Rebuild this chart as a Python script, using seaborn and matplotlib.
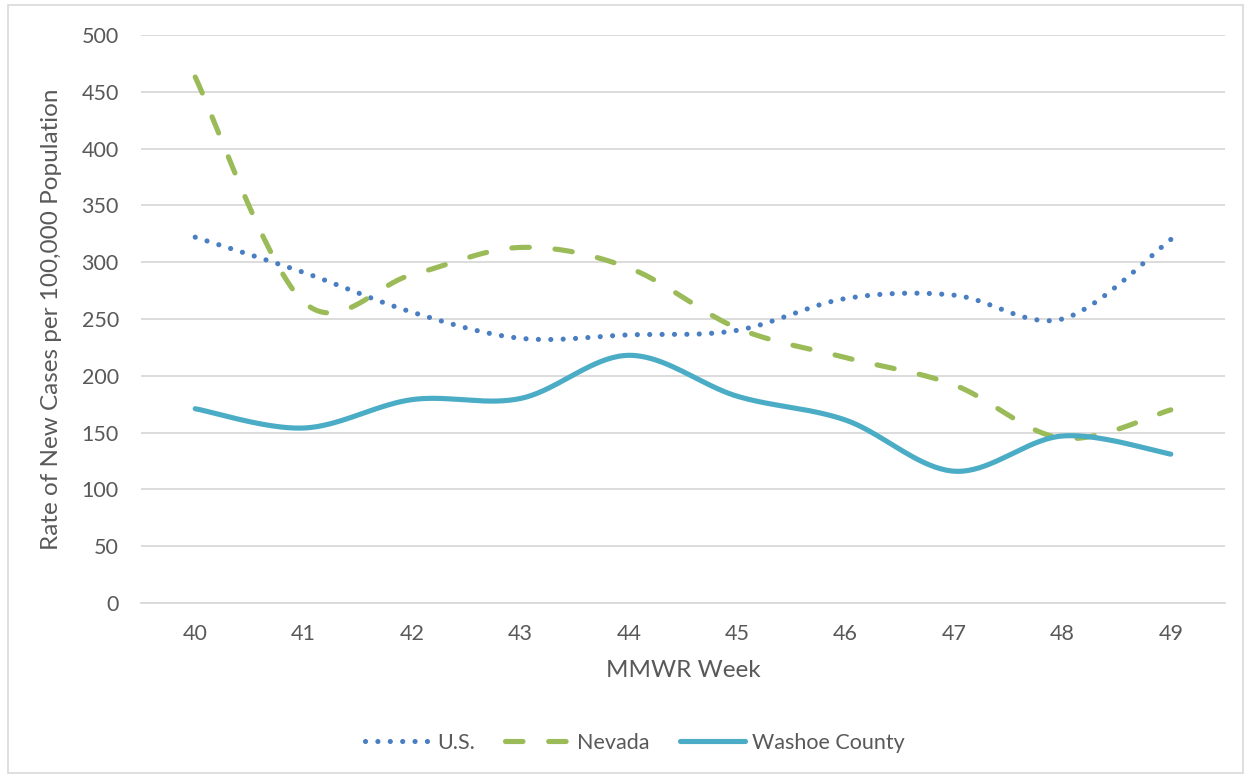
import numpy as np
import pandas as pd
import seaborn as sns
from matplotlib import pyplot as plt
from matplotlib.lines import Line2D
from matplotlib.patches import Rectangle

weeks = [40, 41, 42, 43, 44, 45, 46, 47, 48, 49]
us = [322, 291, 256, 233, 236, 240, 268, 271, 250, 320]
nevada = [463, 265, 289, 313, 295, 242, 216, 192, 145, 170]
washoe = [171, 154, 179, 180, 218, 182, 161, 116, 147, 131]

series_names = ["U.S.", "Nevada", "Washoe County"]
colors = {"U.S.": "#4A7EC2", "Nevada": "#9BBB59", "Washoe County": "#4BACC6"}


def smooth(x, y, n=40):
    # Catmull-Rom style bezier, similar to Excel's smoothed lines
    x = np.asarray(x, float)
    y = np.asarray(y, float)
    px = np.concatenate([[x[0]], x, [x[-1]]])
    py = np.concatenate([[y[0]], y, [y[-1]]])
    xs, ys = [], []
    t = np.linspace(0, 1, n)
    for i in range(1, len(px) - 2):
        p0 = np.array([px[i], py[i]])
        p3 = np.array([px[i + 1], py[i + 1]])
        c1 = p0 + (np.array([px[i + 1], py[i + 1]]) - np.array([px[i - 1], py[i - 1]])) / 6
        c2 = p3 - (np.array([px[i + 2], py[i + 2]]) - np.array([px[i], py[i]])) / 6
        b = ((1 - t) ** 3)[:, None] * p0 + (3 * (1 - t) ** 2 * t)[:, None] * c1 \
            + (3 * (1 - t) * t ** 2)[:, None] * c2 + (t ** 3)[:, None] * p3
        xs.extend(b[:, 0])
        ys.extend(b[:, 1])
    return xs, ys


rows = []
for name, vals in zip(series_names, [us, nevada, washoe]):
    sx, sy = smooth(weeks, vals)
    for a, b in zip(sx, sy):
        rows.append({"week": a, "rate": b, "series": name})
df = pd.DataFrame(rows)

sns.set_theme(style="white")
plt.rcParams["font.family"] = ["Lato", "DejaVu Sans"]
text_color = "#595959"

fig = plt.figure(figsize=(12.5, 7.78), dpi=100)
ax = fig.add_axes([0.1128, 0.225, 0.8672, 0.73])

styles = {
    "U.S.": dict(linestyle=(0, (0.01, 2.4)), linewidth=3.7, dash_capstyle="round"),
    "Nevada": dict(linestyle=(0, (3.4, 5.0)), linewidth=3.7, dash_capstyle="round"),
    "Washoe County": dict(linestyle="-", linewidth=3.7, solid_capstyle="round"),
}
for name in series_names:
    sub = df[df["series"] == name]
    sns.lineplot(data=sub, x="week", y="rate", ax=ax, color=colors[name],
                 sort=False, estimator=None, **styles[name])

ax.set_xlim(39.5, 49.5)
ax.set_ylim(0, 500)
ax.set_xticks(weeks)
ax.set_yticks(range(0, 501, 50))
ax.grid(axis="y", color="#D9D9D9", linewidth=1.3)
ax.set_axisbelow(True)
for s in ["top", "right", "left"]:
    ax.spines[s].set_visible(False)
ax.spines["bottom"].set_color("#D9D9D9")
ax.spines["bottom"].set_linewidth(1.3)
ax.tick_params(axis="both", length=0, labelsize=15.5, labelcolor=text_color)
ax.tick_params(axis="x", pad=15)
ax.tick_params(axis="y", pad=16)
ax.set_xlabel("MMWR Week", fontsize=17.5, color=text_color, labelpad=12)
ax.set_ylabel("Rate of New Cases per 100,000 Population", fontsize=17.5,
              color=text_color, labelpad=14)

handles = [Line2D([], [], color=colors[n], **styles[n]) for n in series_names]
fig.legend(handles, series_names, loc="center", bbox_to_anchor=(0.508, 0.045),
           ncol=3, frameon=False, fontsize=15.5, labelcolor=text_color,
           handlelength=3.0, columnspacing=1.4, handletextpad=0.35)

fig.add_artist(Rectangle((0.006, 0.006), 0.988, 0.988, transform=fig.transFigure,
                         fill=False, edgecolor="#D9D9D9", linewidth=1.2))

fig.savefig("out.png", dpi=100)
